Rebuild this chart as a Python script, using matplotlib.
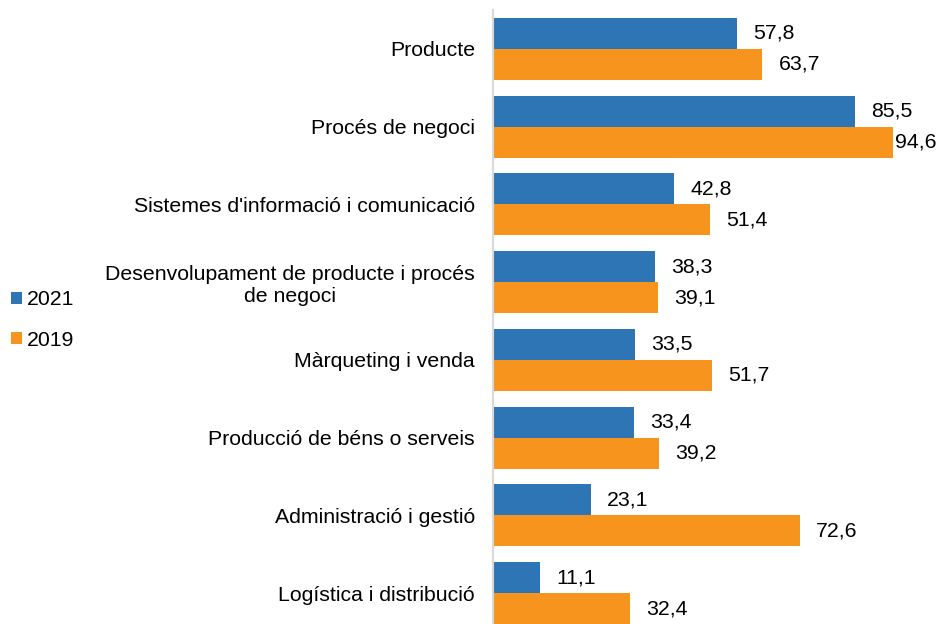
import numpy as np
import matplotlib.pyplot as plt

plt.rcParams['font.family'] = ['Liberation Sans', 'DejaVu Sans']

# categories top to bottom
categories = ["Producte", "Procés de negoci", "Sistemes d'informació i comunicació",
              "Desenvolupament de producte i procés\nde negoci", "Màrqueting i venda",
              "Producció de béns o serveis", "Administració i gestió",
              "Logística i distribució"]
vals_2021 = [57.8, 85.5, 42.8, 38.3, 33.5, 33.4, 23.1, 11.1]
vals_2019 = [63.7, 94.6, 51.4, 39.1, 51.7, 39.2, 72.6, 32.4]

blue = '#2E75B6'
orange = '#F7941D'
fs = 15.3

fig = plt.figure(figsize=(9.39, 6.24), dpi=100)
ax = fig.add_axes([0.525, -0.0128, 0.4505, 0.9968])

y = np.arange(len(categories))
h = 0.4
b1 = ax.barh(y - h/2, vals_2021, height=h, color=blue, label='2021')
b2 = ax.barh(y + h/2, vals_2019, height=h, color=orange, label='2019')

labels = []
for bars, vals in ((b1, vals_2021), (b2, vals_2019)):
    for rect, v in zip(bars, vals):
        t = ax.annotate(f"{v:.1f}".replace('.', ','),
                        (rect.get_width(), rect.get_y() + rect.get_height()/2),
                        xytext=(16, 0), textcoords='offset pixels',
                        va='center', ha='left', fontsize=fs)
        labels.append(t)

ax.set_xlim(0, 100)
ax.set_ylim(len(categories) - 0.5, -0.5)
ax.set_yticks(y)
ax.set_yticklabels(categories, fontsize=fs, multialignment='center')
ax.tick_params(axis='y', length=0, pad=13)
ax.set_xticks([])
for s in ['top', 'right', 'bottom']:
    ax.spines[s].set_visible(False)
ax.spines['left'].set_color('#D9D9D9')
ax.spines['left'].set_linewidth(1.5)

fig.legend(handles=[b1, b2], labels=['2021', '2019'], loc='center left',
           bbox_to_anchor=(0.003, 0.487), frameon=False, fontsize=fs,
           borderaxespad=0, handlelength=0.5, handleheight=0.5,
           handletextpad=0.25, labelspacing=1.0)

# pull labels that would run off the right edge back inside (like Excel does)
fig.canvas.draw()
W = fig.get_figwidth() * fig.dpi
for t in labels:
    bb = t.get_window_extent()
    if bb.x1 > W - 2:
        t.set_position((t.get_position()[0], 0))
        t.xyann = (16 - (bb.x1 - (W - 3)), 0)

fig.savefig('out.png', dpi=100)
